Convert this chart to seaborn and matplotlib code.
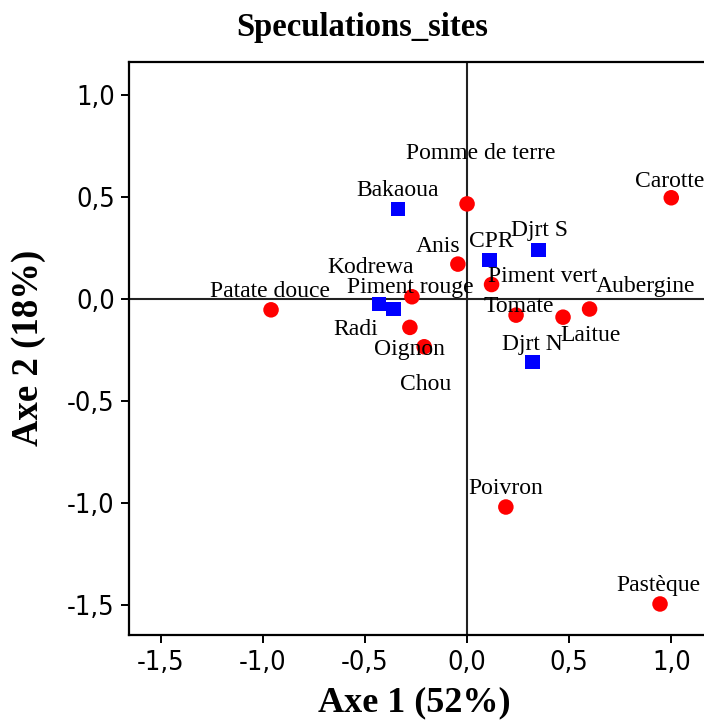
import matplotlib
matplotlib.use("Agg")
import matplotlib.pyplot as plt
import seaborn as sns
import pandas as pd

# Crop / site coordinates on the first two axes
crops = ["Patate douce", "Piment rouge", "Oignon", "Chou", "Pomme de terre",
         "Anis", "Piment vert", "Tomate", "Laitue", "Aubergine", "Carotte",
         "Poivron", "Pastèque"]
crop_ax1 = [-0.96, -0.27, -0.28, -0.21, 0.00, -0.045, 0.12, 0.24, 0.47, 0.60,
            1.00, 0.19, 0.945]
crop_ax2 = [-0.054, 0.01, -0.14, -0.235, 0.465, 0.17, 0.07, -0.08, -0.09,
            -0.05, 0.495, -1.02, -1.495]

sites = ["Bakaoua", "CPR", "Djrt S", "Djrt N", "Kodrewa", "Radi"]
site_ax1 = [-0.34, 0.11, 0.35, 0.32, -0.43, -0.36]
site_ax2 = [0.44, 0.19, 0.24, -0.31, -0.025, -0.05]

tick_values = [-1.5, -1.0, -0.5, 0.0, 0.5, 1.0]
tick_labels = ["-1,5", "-1,0", "-0,5", "0,0", "0,5", "1,0"]

title = "Speculations_sites"
xlabel = "Axe 1 (52%)"
ylabel = "Axe 2 (18%)"

# label placement relative to each marker (points)
label_offsets = {
    "Pomme de terre": (10, 36), "Bakaoua": (0, 13), "Anis": (-14, 13),
    "CPR": (1, 13), "Djrt S": (1, 14), "Carotte": (-1, 12),
    "Kodrewa": (-6, 26), "Radi": (-27, -15), "Piment rouge": (-1, 7),
    "Patate douce": (-1, 13), "Oignon": (0, -16), "Chou": (1, -27),
    "Piment vert": (37, 6), "Tomate": (2, 6), "Aubergine": (40, 16),
    "Laitue": (20, -13), "Djrt N": (0, 13), "Poivron": (0, 13),
    "Pastèque": (-1, 13),
}

df = pd.DataFrame({
    "name": crops + sites,
    "ax1": crop_ax1 + site_ax1,
    "ax2": crop_ax2 + site_ax2,
    "kind": ["crop"] * len(crops) + ["site"] * len(sites),
})

sns.set_theme(style="white")
fig = plt.figure(figsize=(7.04, 7.22), dpi=100)
ax = fig.add_axes([0.1837, 0.1205, 0.8307, 0.7936])

ax.axhline(0, color="#222222", lw=1.5, zorder=1)
ax.axvline(0, color="#222222", lw=1.5, zorder=1)

for kind, marker, color, size in [("crop", "o", "#ff0000", 125),
                                  ("site", "s", "#0000ff", 105)]:
    sub = df[df["kind"] == kind]
    sns.scatterplot(data=sub, x="ax1", y="ax2", marker=marker, color=color,
                    s=size, edgecolor="none", linewidth=0, ax=ax, zorder=3,
                    legend=False)

for _, row in df.iterrows():
    dx, dy = label_offsets[row["name"]]
    ax.annotate(row["name"], (row["ax1"], row["ax2"]), xytext=(dx, dy),
                textcoords="offset points", ha="center", va="center",
                fontsize=17, family="Liberation Serif", color="black",
                zorder=4)

ax.set_xlim(-1.654, 1.21)
ax.set_ylim(-1.647, 1.16)
ax.set_xticks(tick_values)
ax.set_xticklabels(tick_labels)
ax.set_yticks(tick_values)
ax.set_yticklabels(tick_labels)
ax.set_xlabel("")
ax.set_ylabel("")

for lab in ax.get_xticklabels() + ax.get_yticklabels():
    lab.set_family("DejaVu Sans")
    lab.set_fontstretch("condensed")
    lab.set_fontsize(19.5)
    lab.set_color("black")

ax.tick_params(axis="both", which="major", direction="out", length=5.5,
               width=1.4, color="black", bottom=True, left=True, pad=5)
for side, sp in ax.spines.items():
    sp.set_visible(True)
    sp.set_color("black")
    sp.set_linewidth(1.6)

fig.text(0.514, 0.962, title, ha="center", va="center", fontsize=23.5,
         fontweight="bold", family="Liberation Serif", color="black")
fig.text(0.588, 0.027, xlabel, ha="center", va="center", fontsize=26,
         fontweight="bold", family="Liberation Serif", color="black")
fig.text(0.040, 0.518, ylabel, ha="center", va="center", fontsize=26.5,
         fontweight="bold", family="Liberation Serif", rotation=90,
         color="black")

fig.savefig("out.png", dpi=100, facecolor="white")
